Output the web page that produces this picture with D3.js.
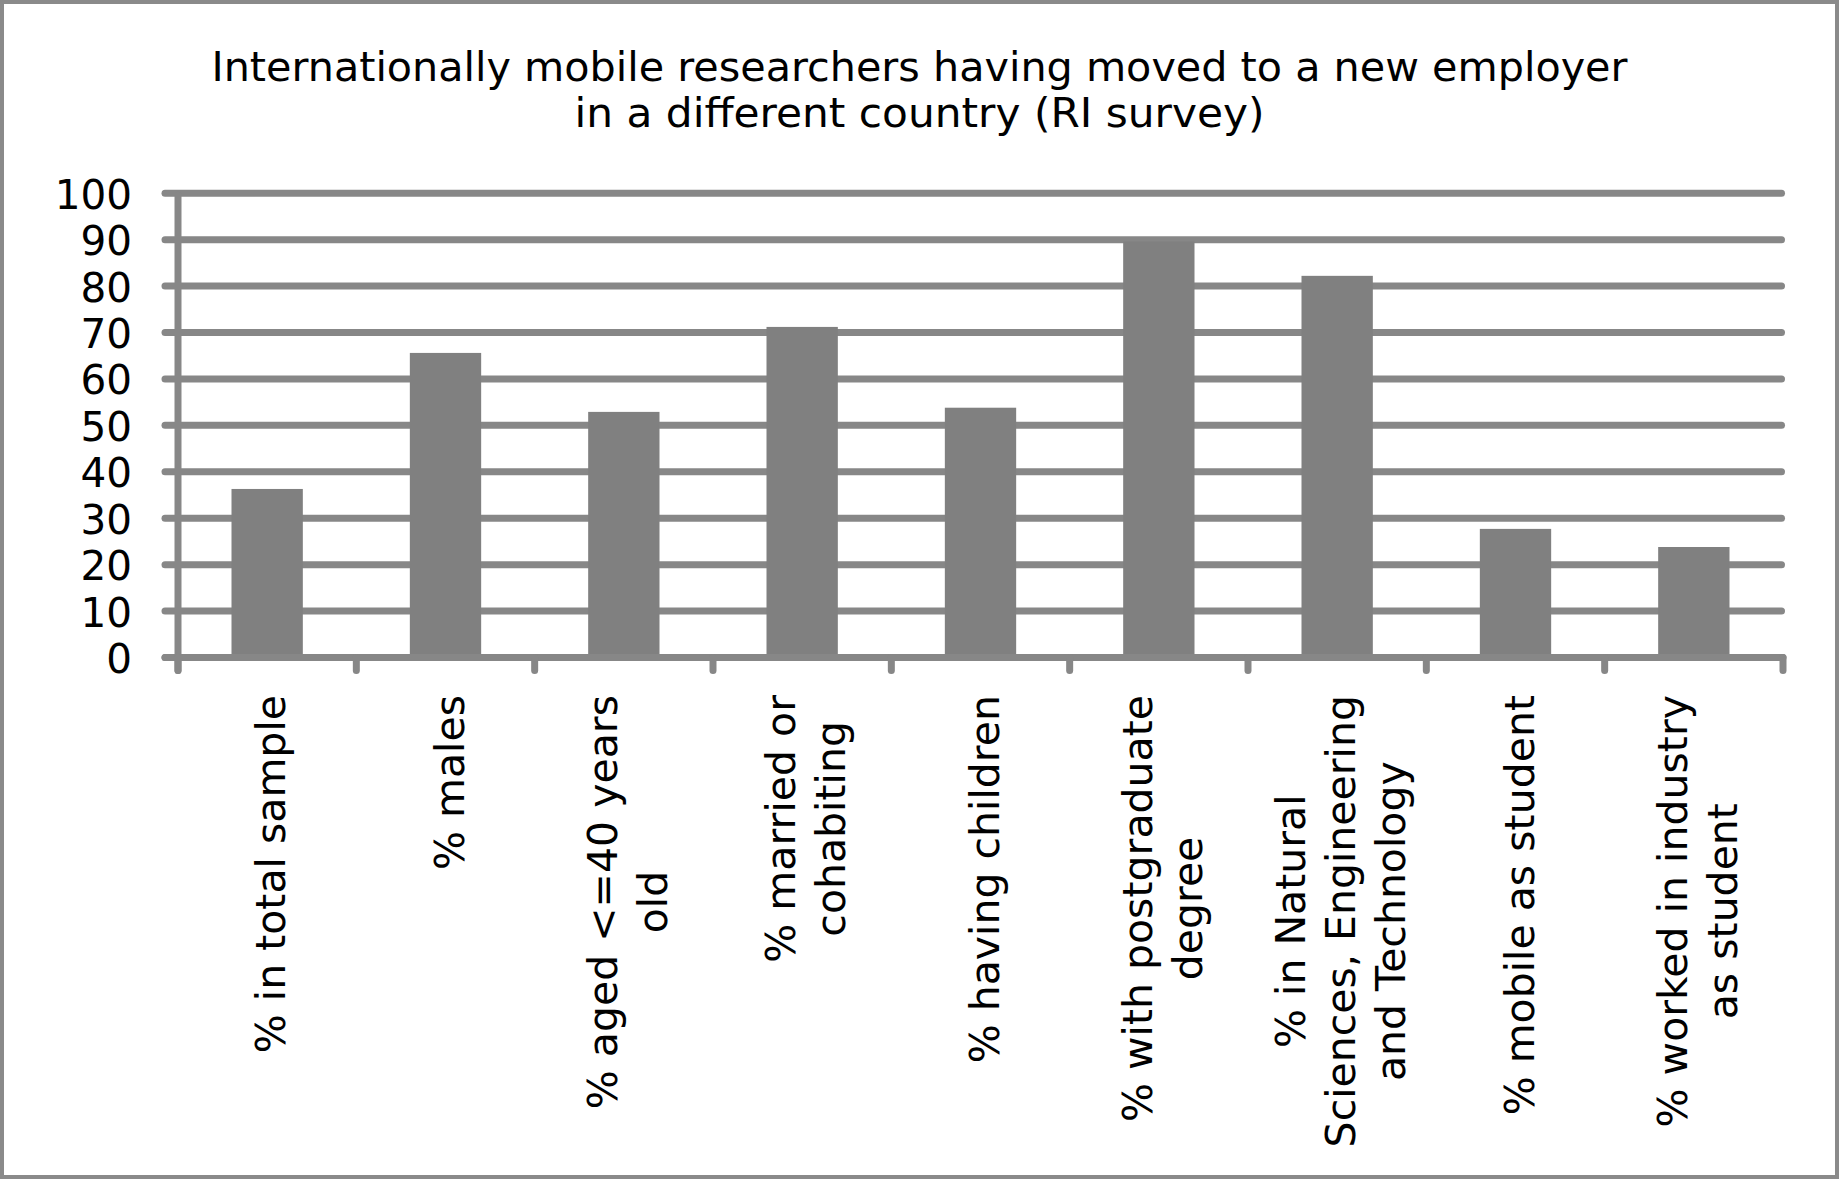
<!DOCTYPE html>
<html>
<head>
<meta charset="utf-8">
<script src="https://cdn.jsdelivr.net/npm/d3@7"></script>
<style>
  html, body { margin: 0; padding: 0; background: #ffffff; }
  svg { display: block; }
  text { font-family: "DejaVu Sans", Verdana, sans-serif; fill: #000; }
</style>
</head>
<body>
<svg id="chart" width="1839" height="1179"></svg>
<script>
// Chart content
const titleLines = [
  "Internationally mobile researchers having moved to a new employer",
  "in a different country (RI survey)"
];
const categories = [
  "% in total sample",
  "% males",
  "% aged <=40 years\nold",
  "% married or\ncohabiting",
  "% having children",
  "% with postgraduate\ndegree",
  "% in Natural\nSciences, Engineering\nand Technology",
  "% mobile as student",
  "% worked in industry\nas student"
];
const values = [36.3, 65.6, 52.9, 71.2, 53.8, 89.6, 82.2, 27.7, 23.8];
const yTicks = [0, 10, 20, 30, 40, 50, 60, 70, 80, 90, 100];

// Layout
const W = 1839, H = 1179;
const plot = { left: 178, right: 1783, top: 193.2, bottom: 657.5 };
const gridGrey = "#878787";
const barGrey = "#808080";
const lineW = 7;

const svg = d3.select("#chart");

svg.append("rect")
  .attr("x", 2).attr("y", 2)
  .attr("width", W - 4).attr("height", H - 4)
  .attr("fill", "#fff")
  .attr("stroke", "#8a8a8a")
  .attr("stroke-width", 4);

const x = d3.scaleBand()
  .domain(categories)
  .range([plot.left, plot.right])
  .paddingInner(0.6)
  .paddingOuter(0.3);

const y = d3.scaleLinear()
  .domain([0, 100])
  .range([plot.bottom, plot.top]);

// Title
svg.append("g").selectAll("text")
  .data(titleLines)
  .join("text")
  .attr("x", W / 2)
  .attr("y", (d, i) => 81 + i * 46)
  .attr("text-anchor", "middle")
  .attr("font-size", 40)
  .attr("textLength", (d, i) => i === 0 ? 1416 : 690)
  .attr("lengthAdjust", "spacingAndGlyphs")
  .text(d => d);

// Horizontal gridlines
svg.append("g").selectAll("line")
  .data(yTicks)
  .join("line")
  .attr("x1", 165).attr("x2", 1781.5)
  .attr("y1", d => y(d)).attr("y2", d => y(d))
  .attr("stroke", gridGrey)
  .attr("stroke-width", lineW)
  .attr("stroke-linecap", "round");

// Bars
svg.append("g").selectAll("rect")
  .data(values)
  .join("rect")
  .attr("x", (d, i) => x(categories[i]))
  .attr("width", x.bandwidth())
  .attr("y", d => y(d))
  .attr("height", d => y(0) - y(d) - 2)
  .attr("fill", barGrey);

// Axis lines and category boundary ticks
const axes = svg.append("g")
  .attr("stroke", gridGrey)
  .attr("stroke-width", lineW)
  .attr("stroke-linecap", "round");

axes.append("line")
  .attr("x1", 165).attr("x2", plot.right)
  .attr("y1", y(0)).attr("y2", y(0));

axes.append("line")
  .attr("x1", plot.left).attr("x2", plot.left)
  .attr("y1", y(100) + 2).attr("y2", y(0) + 13);

const bounds = d3.range(categories.length + 1).map(i => plot.left + i * x.step());
axes.selectAll("line.tick")
  .data(bounds)
  .join("line")
  .attr("class", "tick")
  .attr("x1", d => d).attr("x2", d => d)
  .attr("y1", y(0)).attr("y2", y(0) + 13);

// Y tick labels
const yAxis = d3.axisLeft(y).tickValues(yTicks).tickSize(0).tickPadding(46);
const yg = svg.append("g")
  .attr("transform", `translate(${plot.left},0)`)
  .call(yAxis);
yg.select(".domain").remove();
yg.selectAll("text")
  .attr("font-size", 40.5)
  .attr("font-family", "DejaVu Sans, Verdana, sans-serif")
  .attr("fill", "#000")
  .attr("dy", "0.37em");

// Category labels: rotated, multi-line blocks centred on each band
const labelTop = 695;
const lineStep = 50;
const labelG = svg.append("g");
categories.forEach(cat => {
  const lines = cat.split("\n");
  const n = lines.length;
  const c = x(cat) + x.bandwidth() / 2;
  const g = labelG.append("g");
  const texts = g.selectAll("text")
    .data(lines)
    .join("text")
    .attr("font-size", 41)
    .attr("text-anchor", "middle")
    .text(d => d);
  let maxW = 0;
  texts.each(function () { maxW = Math.max(maxW, this.getComputedTextLength()); });
  const yc = labelTop + maxW / 2;
  texts.attr("transform", (d, i) => {
    const bx = c - (n - 1) * lineStep / 2 + i * lineStep + 18;
    return `translate(${bx},${yc}) rotate(-90)`;
  });
});
</script>
</body>
</html>
